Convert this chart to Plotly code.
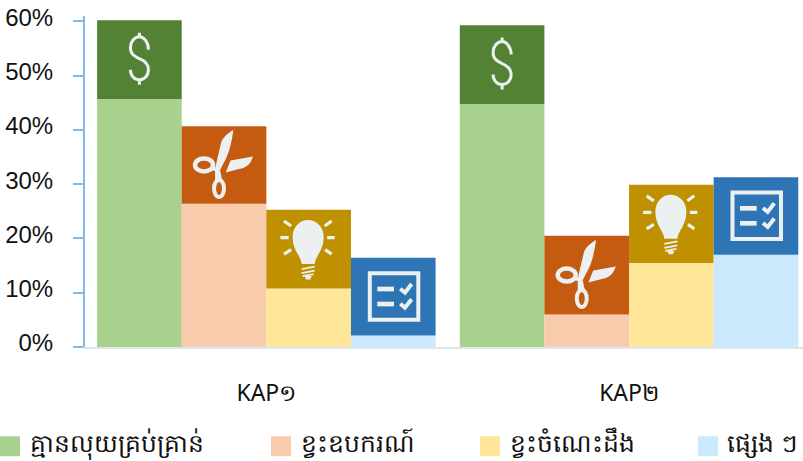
import plotly.graph_objects as go

# ---- data -------------------------------------------------------------
categories = ["KAP១", "KAP២"]
series_names = ["គ្មានលុយគ្រប់គ្រាន់", "ខ្វះឧបករណ៍", "ខ្វះចំណេះដឹង", "ផ្សេង ៗ"]
light_values = [[45.7, 44.8], [26.4, 6.0], [10.8, 15.5], [2.1, 17.0]]
cap_values = [[14.5, 14.5], [14.3, 14.5], [14.5, 14.4], [14.35, 14.3]]
light_colors = ["#A9D18E", "#F8CBAD", "#FFE699", "#CAE9FD"]
cap_colors = ["#548235", "#C55A11", "#BF9000", "#2E75B6"]
y_ticks = [0, 10, 20, 30, 40, 50, 60]
y_tick_labels = ["0%", "10%", "20%", "30%", "40%", "50%", "60%"]

# ---- layout constants ---------------------------------------------------
W, H = 803, 461
LEFT, BOTTOM_Y, PX_PER_UNIT, CAT_PX = 85, 347.5, 5.44, 362.7
Y_MAX = 61
TOP_Y = BOTTOM_Y - Y_MAX * PX_PER_UNIT
BARGAP = 0.0667
ICON = "#ECF0F1"
FONT = "Noto Sans, Liberation Sans, DejaVu Sans, sans-serif"


def path(cmds):
    """Local icon paths are y-down pixels; pixel-sized shapes are y-up."""
    out = []
    for c in cmds:
        op, pts = c[0], c[1:]
        out.append(op + " ".join(f"{x},{-y}" for x, y in pts))
    return " ".join(out)


def ell(cx, cy, rx, ry):
    k = 0.5523
    return [("M", (cx - rx, cy)),
            ("C", (cx - rx, cy - k * ry), (cx - k * rx, cy - ry), (cx, cy - ry)),
            ("C", (cx + k * rx, cy - ry), (cx + rx, cy - k * ry), (cx + rx, cy)),
            ("C", (cx + rx, cy + k * ry), (cx + k * rx, cy + ry), (cx, cy + ry)),
            ("C", (cx - k * rx, cy + ry), (cx - rx, cy + k * ry), (cx - rx, cy))]


dollar = [dict(p=[("M", (9, -10)), ("C", (9, -18), (4, -23), (0, -23)), ("C", (-5, -23), (-9, -18), (-9, -12)),
                  ("C", (-9, -5), (-4, -3), (0, -1)), ("C", (5, 1), (9, 4), (9, 10)),
                  ("C", (9, 17), (4, 20), (0, 20)), ("C", (-5, 20), (-9, 16), (-9, 10)),
                  ("M", (0, -27)), ("L", (0, -23)), ("M", (0, 20)), ("L", (0, 25))], w=3, fill=False)]

scissors = [
    dict(p=[("M", (9.3, -35)), ("C", (2, -31), (-2, -26), (-3, -22)), ("L", (-7, -5)), ("L", (-9, 4)),
            ("L", (-9, 15)), ("L", (-2, 15)), ("L", (-4, 5)), ("L", (2, -6.5)), ("C", (6, -15), (8, -25), (9.3, -35))],
         w=0, fill=True),
    dict(p=[("M", (1.7, 7.5)), ("L", (6.5, -4.5)), ("L", (29, -8.5)), ("C", (26, 0), (22, 3), (15, 4))], w=0, fill=True),
    dict(p=ell(-5, 23.5, 5, 8.5), w=4, fill=False),
    dict(p=ell(-20, 0, 9, 6.5), w=4.5, fill=False),
    dict(p=[("M", (-12, 3.5)), ("L", (-7, 4.5))], w=3.5, fill=False),
]

bulb = [
    dict(p=[("M", (-7, 15)), ("C", (-8, 6), (-16, 2), (-16, -12)), ("C", (-16, -23), (-8, -29), (-1, -29)),
            ("C", (7, -29), (15, -23), (15, -12)), ("C", (15, 2), (7, 6), (6, 15))], w=0, fill=True),
    dict(p=[("M", (-7, 20)), ("L", (6, 17.5)), ("M", (-7, 24)), ("L", (6, 21.5)), ("M", (-6, 27)), ("L", (5, 25))],
         w=1.8, fill=False),
    dict(p=[("M", (-4, 27)), ("L", (3, 27)), ("L", (1.5, 30.5)), ("L", (-2.5, 30.5))], w=0, fill=True),
    dict(p=[("M", (-24.7, -28)), ("L", (-17.5, -23)), ("M", (-28.3, -11.5)), ("L", (-20, -11.5)),
            ("M", (-24.7, 5)), ("L", (-17.5, 0.5)), ("M", (23, -28)), ("L", (16, -23)),
            ("M", (26, -11.5)), ("L", (18.5, -11.5)), ("M", (23, 5)), ("L", (16.5, 0.5))], w=3.2, fill=False),
]

checklist = [
    dict(p=[("M", (-23.5, -23.5)), ("L", (25, -23.5)), ("L", (25, 23)), ("L", (-23.5, 23)), ("Z",)], w=4, fill=False),
    dict(p=[("M", (-16, -10)), ("L", (0.7, -10)), ("L", (0.7, -5.3)), ("L", (-16, -5.3)), ("Z",)], w=0, fill=True),
    dict(p=[("M", (-16, 5)), ("L", (0.7, 5)), ("L", (0.7, 9.7)), ("L", (-16, 9.7)), ("Z",)], w=0, fill=True),
    dict(p=[("M", (7, -8)), ("L", (11.7, -4)), ("L", (18.3, -12.7)), ("M", (7, 7)), ("L", (11.7, 11)), ("L", (18.3, 2.5))],
         w=4, fill=False),
]
icons = [dollar, scissors, bulb, checklist]

# ---- traces ---------------------------------------------------------------
fig = go.Figure()
for j, name in enumerate(series_names):
    fig.add_bar(x=categories, y=light_values[j], name=name, offsetgroup=str(j),
                marker=dict(color=light_colors[j], line=dict(width=0)), showlegend=False, hoverinfo="x+y+name")
    fig.add_bar(x=categories, y=cap_values[j], base=light_values[j], name=name, offsetgroup=str(j),
                marker=dict(color=cap_colors[j], line=dict(width=0)), showlegend=False, hoverinfo="x+y+name")

# ---- icons ------------------------------------------------------------------
shapes = []
bar_frac = (1 - BARGAP) / 4
for j, icon in enumerate(icons):
    for i in range(len(categories)):
        xa = i + (j - 1.5) * bar_frac
        ya = light_values[j][i] + cap_values[j][i] / 2
        for part in icon:
            shapes.append(dict(type="path", xref="x", yref="y", xsizemode="pixel", ysizemode="pixel",
                               xanchor=xa, yanchor=ya, path=path(part["p"]),
                               fillcolor=ICON if part["fill"] else "rgba(0,0,0,0)",
                               line=dict(color=ICON, width=part["w"]), layer="above"))

# ---- hand-placed legend -------------------------------------------------------
PLOT_W = W - LEFT
PLOT_H = BOTTOM_Y - TOP_Y


def px(x):
    return (x - LEFT) / PLOT_W


def py(y):
    return (BOTTOM_Y - y) / PLOT_H


annotations = []
swatch_x = [0, 271, 480, 698]
text_x = [28, 299, 508, 725]
for j, name in enumerate(series_names):
    shapes.append(dict(type="rect", xref="paper", yref="paper", x0=px(swatch_x[j]), x1=px(swatch_x[j] + 20),
                       y0=py(457), y1=py(437), fillcolor=light_colors[j], line=dict(width=0), layer="above"))
    annotations.append(dict(xref="paper", yref="paper", x=px(text_x[j]), y=py(443), text=name, showarrow=False,
                            xanchor="left", yanchor="middle", font=dict(size=25, color="#111111", family=FONT)))

fig.update_layout(
    width=W, height=H, autosize=False, barmode="group", bargap=BARGAP, bargroupgap=0,
    margin=dict(l=LEFT, r=0, t=TOP_Y, b=H - BOTTOM_Y, pad=0),
    paper_bgcolor="white", plot_bgcolor="white", showlegend=False,
    font=dict(family=FONT, color="#111111"),
    shapes=shapes, annotations=annotations,
    xaxis=dict(type="category", range=[-0.5, -0.5 + PLOT_W / CAT_PX], showgrid=False, zeroline=False,
               showline=True, linecolor="#DEE5EE", linewidth=2, ticks="", ticklabelstandoff=24,
               tickfont=dict(size=23, color="#111111", family=FONT)),
    yaxis=dict(range=[0, Y_MAX], tickvals=y_ticks, ticktext=y_tick_labels, showgrid=False, zeroline=False,
               showline=True, linecolor="#85B7E8", linewidth=2, ticks="outside", ticklen=10, tickwidth=2,
               tickcolor="#85B7E8", ticklabelstandoff=15, ticklabelshift=-4,
               tickfont=dict(size=24, color="#111111", family="Liberation Sans")),
)
fig.write_html("out.html", post_script="document.body.style.margin='0';", config={"displayModeBar": False})
